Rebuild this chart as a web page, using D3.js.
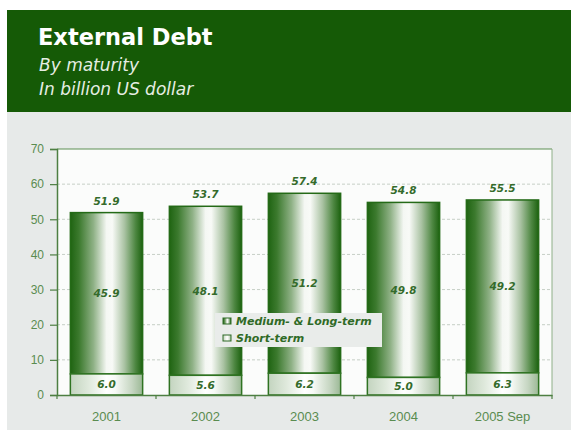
<!DOCTYPE html>
<html>
<head>
<meta charset="utf-8">
<script src="https://cdn.jsdelivr.net/npm/d3@7/dist/d3.min.js"></script>
<style>
  html, body { margin: 0; padding: 0; background: #ffffff; }
  svg { display: block; font-family: "Liberation Sans", Arial, sans-serif; }
</style>
</head>
<body>
<svg id="chart" width="571" height="436"></svg>
<script>
// External debt by maturity, billion US dollar
const categories = ["2001", "2002", "2003", "2004", "2005 Sep"];
const shortTerm  = [6.0, 5.6, 6.2, 5.0, 6.3];
const mediumLong = [45.9, 48.1, 51.2, 49.8, 49.2];
const totals     = [51.9, 53.7, 57.4, 54.8, 55.5];
const yTicks     = [0, 10, 20, 30, 40, 50, 60, 70];
const seriesNames = ["Medium- & Long-term", "Short-term"];

const W = 571, H = 436;
const plot = { left: 57, right: 552, top: 149, bottom: 395 };
const wide = "DejaVu Sans, Verdana, sans-serif";
const narrow = "Liberation Sans, Arial, sans-serif";

const svg = d3.select("#chart");
const defs = svg.append("defs");

// Cylinder-like horizontal shading for the bars
const gMed = defs.append("linearGradient").attr("id", "gradMed")
  .attr("x1", "0%").attr("x2", "100%").attr("y1", "0%").attr("y2", "0%");
[[0, "#1f6412"], [0.12, "#3c7a2e"], [0.32, "#8fb186"], [0.5, "#f4f7f3"], [0.58, "#f8faf7"],
 [0.75, "#a9c2a2"], [0.9, "#4e8742"], [1, "#1d6210"]]
  .forEach(([o, c]) => gMed.append("stop").attr("offset", o).attr("stop-color", c));

const gShort = defs.append("linearGradient").attr("id", "gradShort")
  .attr("x1", "0%").attr("x2", "100%").attr("y1", "0%").attr("y2", "0%");
[[0, "#c3d4bf"], [0.25, "#dfe9dc"], [0.5, "#ffffff"], [0.62, "#f7faf6"], [0.85, "#c6d6c2"], [1, "#9cb996"]]
  .forEach(([o, c]) => gShort.append("stop").attr("offset", o).attr("stop-color", c));

// Header band
svg.append("rect").attr("x", 7).attr("y", 10).attr("width", W - 7).attr("height", 102)
  .attr("fill", "#155a06");
svg.append("text").attr("x", 38).attr("y", 45).attr("font-family", wide)
  .attr("fill", "#ffffff").attr("font-size", 22.5).attr("font-weight", "bold")
  .text("External Debt");
svg.append("text").attr("x", 39).attr("y", 71).attr("font-family", wide)
  .attr("fill", "#e6eee3").attr("font-size", 17).attr("font-style", "italic")
  .text("By maturity");
svg.append("text").attr("x", 39).attr("y", 95).attr("font-family", wide)
  .attr("fill", "#e6eee3").attr("font-size", 17).attr("font-style", "italic")
  .text("In billion US dollar");

// Grey panel behind the plot
svg.append("rect").attr("x", 7).attr("y", 112).attr("width", W - 7).attr("height", 318)
  .attr("fill", "#e7eae9");

// Scales
const x = d3.scaleBand().domain(categories)
  .range([plot.left, plot.right]).paddingInner(0.27).paddingOuter(0.135);
const y = d3.scaleLinear().domain([0, 70]).range([plot.bottom, plot.top]);

// Plot background
svg.append("rect").attr("x", plot.left).attr("y", plot.top)
  .attr("width", plot.right - plot.left).attr("height", plot.bottom - plot.top)
  .attr("fill", "#fbfcfb");

// Dashed gridlines
svg.append("g").selectAll("line").data(yTicks.filter(v => v > 0 && v < 70)).join("line")
  .attr("x1", plot.left).attr("x2", plot.right)
  .attr("y1", d => y(d)).attr("y2", d => y(d))
  .attr("stroke", "#c6cfc6").attr("stroke-width", 1).attr("stroke-dasharray", "3,2");

// Top and right frame lines
svg.append("line").attr("x1", plot.left).attr("x2", plot.right)
  .attr("y1", y(70)).attr("y2", y(70)).attr("stroke", "#5f8f55").attr("stroke-width", 1.2);
svg.append("line").attr("x1", plot.right).attr("x2", plot.right)
  .attr("y1", plot.top).attr("y2", plot.bottom).attr("stroke", "#8fb088").attr("stroke-width", 1);

// Y axis
const yAxis = svg.append("g").attr("transform", `translate(${plot.left},0)`)
  .call(d3.axisLeft(y).tickValues(yTicks).tickSize(7).tickPadding(6).tickFormat(d3.format("d")));
yAxis.select(".domain").attr("stroke", "#4d7f42").attr("stroke-width", 1.5);
yAxis.selectAll(".tick line").attr("stroke", "#4d7f42").attr("stroke-width", 1.2);
yAxis.selectAll(".tick text").attr("fill", "#5a8c50").attr("font-size", 12)
  .attr("font-family", narrow);

// Bars
const rows = categories.map((c, i) => ({ c, s: shortTerm[i], m: mediumLong[i], t: totals[i] }));
const bars = svg.append("g");
bars.selectAll("rect.med").data(rows).join("rect").attr("class", "med")
  .attr("x", d => x(d.c)).attr("width", x.bandwidth())
  .attr("y", d => y(d.s + d.m)).attr("height", d => y(d.s) - y(d.s + d.m))
  .attr("fill", "url(#gradMed)").attr("stroke", "#246a17").attr("stroke-width", 1.5);
bars.selectAll("rect.short").data(rows).join("rect").attr("class", "short")
  .attr("x", d => x(d.c)).attr("width", x.bandwidth())
  .attr("y", d => y(d.s)).attr("height", d => y(0) - y(d.s))
  .attr("fill", "url(#gradShort)").attr("stroke", "#2f7322").attr("stroke-width", 1.5);

// X axis: baseline, boundary ticks and labels
const xAxis = svg.append("g").attr("transform", `translate(0,${plot.bottom})`)
  .call(d3.axisBottom(x).tickSize(0).tickPadding(17));
xAxis.select(".domain").attr("stroke", "#4d7f42").attr("stroke-width", 1.5);
xAxis.selectAll(".tick text").attr("fill", "#5a8c50").attr("font-size", 13)
  .attr("font-family", narrow);
const bounds = categories.map(c => x(c) - x.step() * x.paddingInner() / 2).concat([plot.right]);
bounds[0] = plot.left;
svg.append("g").selectAll("line").data(bounds).join("line")
  .attr("x1", d => d).attr("x2", d => d)
  .attr("y1", plot.bottom).attr("y2", plot.bottom + 4)
  .attr("stroke", "#4d7f42").attr("stroke-width", 1.2);

// Value labels
const lbl = svg.append("g").attr("font-size", 10.5).attr("font-weight", "bold")
  .attr("font-family", wide)
  .attr("font-style", "italic").attr("fill", "#346b2b").attr("text-anchor", "middle");
lbl.selectAll("text.t").data(rows).join("text").attr("class", "t")
  .attr("x", d => x(d.c) + x.bandwidth() / 2).attr("y", d => y(d.t) - 8)
  .text(d => d3.format(".1f")(d.t));
lbl.selectAll("text.m").data(rows).join("text").attr("class", "m")
  .attr("x", d => x(d.c) + x.bandwidth() / 2).attr("y", d => y(d.s + d.m / 2) + 4)
  .text(d => d3.format(".1f")(d.m));
lbl.selectAll("text.s").data(rows).join("text").attr("class", "s")
  .attr("x", d => x(d.c) + x.bandwidth() / 2).attr("y", d => y(d.s / 2) + 4)
  .text(d => d3.format(".1f")(d.s));

// Legend
const legend = svg.append("g").attr("transform", "translate(215,313)");
legend.append("rect").attr("width", 167).attr("height", 34).attr("fill", "#e9ecea");
const fills = ["url(#gradMed)", "url(#gradShort)"];
seriesNames.forEach((name, i) => {
  legend.append("rect").attr("x", 8).attr("y", 5 + i * 17).attr("width", 8).attr("height", 6)
    .attr("fill", fills[i]).attr("stroke", "#2f6a26").attr("stroke-width", 1);
  legend.append("text").attr("x", 21).attr("y", 12 + i * 17).attr("font-family", wide)
    .attr("font-size", 11).attr("font-weight", "bold").attr("font-style", "italic")
    .attr("fill", "#2f6a26").text(name);
});
</script>
</body>
</html>
